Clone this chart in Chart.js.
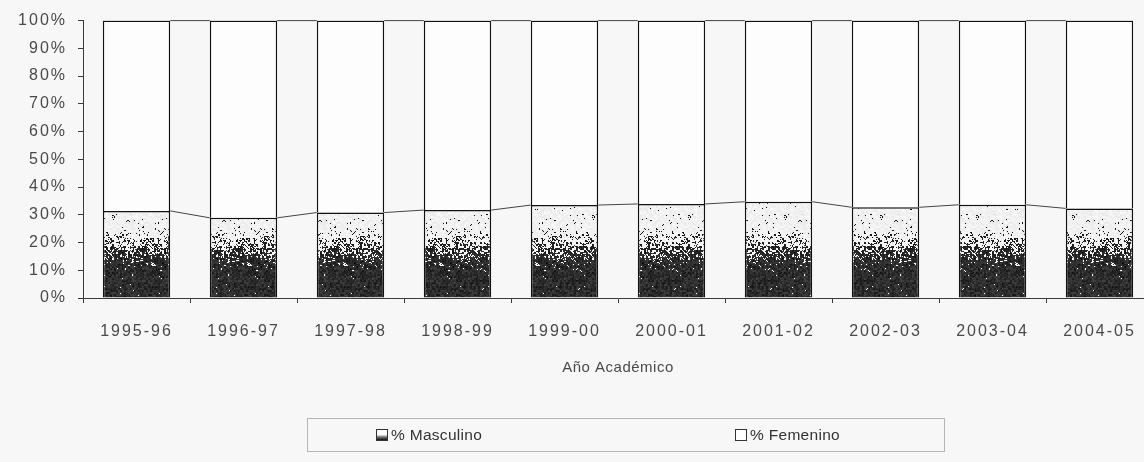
<!DOCTYPE html>
<html>
<head>
<meta charset="utf-8">
<script src="https://cdn.jsdelivr.net/npm/chart.js@4/dist/chart.umd.min.js"></script>
<style>
  html, body { margin: 0; padding: 0; background: #f7f7f7; overflow: hidden; }
  body { width: 1144px; height: 462px; position: relative; font-family: "Liberation Sans", Arial, sans-serif; }
  #wrap { position: absolute; left: 0; top: 0; width: 1160px; height: 462px; }
  #legend {
    position: absolute; left: 307px; top: 418px; width: 638px; height: 34px;
    border: 1px solid #b5b5b5; box-sizing: border-box; color: #333; font-size: 15.5px; letter-spacing: 0.3px;
  }
  #legend .item { position: absolute; top: 7px; white-space: nowrap; }
  #legend .box {
    display: inline-block; width: 10px; height: 10px; border: 1.5px solid #333;
    vertical-align: -1px; margin-right: 3px; background: #fff;
  }
  #legend .box.dark { background: linear-gradient(#fff 0%, #fff 45%, #777 70%, #111 100%); }
</style>
</head>
<body>
<div id="wrap"><canvas id="chart"></canvas></div>
<div id="legend">
  <span class="item" style="left:68px"><span class="box dark"></span>% Masculino</span>
  <span class="item" style="left:427px"><span class="box"></span>% Femenino</span>
</div>
<script>
// Datos (porcentaje por año academico)
const labels = ["1995-96", "1996-97", "1997-98", "1998-99", "1999-00", "2000-01", "2001-02", "2002-03", "2003-04", "2004-05"];
const masculino = [31.4, 28.9, 30.8, 31.7, 33.5, 33.9, 34.7, 32.7, 33.6, 32.3];
const femenino = [68.6, 71.1, 69.2, 68.3, 66.5, 66.1, 65.3, 67.3, 66.4, 67.7];
const yTicks = [0, 10, 20, 30, 40, 50, 60, 70, 80, 90, 100];

const textColor = "#4a4a4a";
const axisColor = "#3a3a3a";

// ruido fijo (hash) para imitar el punteado impreso
function hash(x, y) {
  let h = Math.imul(x, 374761393) + Math.imul(y, 668265263);
  h = Math.imul(h ^ (h >>> 13), 1274126177);
  return ((h ^ (h >>> 16)) >>> 0) / 4294967296;
}

function smooth(v) {
  const t = Math.min(1, Math.max(0, v));
  return t * t * (3 - 2 * t);
}

// relleno punteado (oscuro abajo, claro arriba) para % Masculino
let malePattern = null;
function maleFill(context) {
  const chart = context.chart;
  const { chartArea, scales } = chart;
  if (!chartArea) return "#333";
  if (!malePattern) {
    const y0 = scales.y.getPixelForValue(0);
    const y1 = scales.y.getPixelForValue(33);
    const c = document.createElement("canvas");
    c.width = 96;
    c.height = Math.ceil(y0) + 4;
    const g = c.getContext("2d");
    const img = g.createImageData(c.width, c.height);
    for (let y = 0; y < c.height; y++) {
      const t = (y0 - y) / (y0 - y1);
      const d = 0.95 - 0.87 * smooth((t - 0.2) / 0.7);
      for (let x = 0; x < c.width; x++) {
        const n = 0.6 * hash(x >> 1, y >> 1) + 0.4 * hash(x + 7, y + 13);
        const v = n < d ? 15 + 60 * n : 228 + 25 * n;
        const i = (y * c.width + x) * 4;
        img.data[i] = v;
        img.data[i + 1] = v;
        img.data[i + 2] = v;
        img.data[i + 3] = 255;
      }
    }
    g.putImageData(img, 0, 0);
    malePattern = chart.ctx.createPattern(c, "repeat");
  }
  return malePattern;
}

// lineas de serie entre columnas (estilo Excel)
const seriesLines = {
  id: "seriesLines",
  afterDatasetsDraw(chart) {
    const ctx = chart.ctx;
    ctx.save();
    ctx.strokeStyle = "#444";
    ctx.lineWidth = 1;
    chart.data.datasets.forEach((ds, di) => {
      const bars = chart.getDatasetMeta(di).data;
      for (let i = 0; i < bars.length - 1; i++) {
        const a = bars[i];
        const b = bars[i + 1];
        ctx.beginPath();
        ctx.moveTo(a.x + a.width / 2, a.y);
        ctx.lineTo(b.x - b.width / 2, b.y);
        ctx.stroke();
      }
    });
    ctx.restore();
  },
};

// espaciado de letras de las etiquetas de los ejes
const spacing = {
  id: "spacing",
  beforeUpdate(chart) { chart.ctx.letterSpacing = "2px"; },
  beforeDraw(chart) { chart.ctx.letterSpacing = "2px"; },
};

const ctx = document.getElementById("chart").getContext("2d");
new Chart(ctx, {
  type: "bar",
  data: {
    labels: labels,
    datasets: [
      {
        label: "% Masculino",
        data: masculino,
        backgroundColor: maleFill,
        borderColor: "#111",
        borderWidth: 1.5,
      },
      {
        label: "% Femenino",
        data: femenino,
        backgroundColor: "#fdfdfd",
        borderColor: "#111",
        borderWidth: 1.5,
      },
    ],
  },
  options: {
    responsive: true,
    maintainAspectRatio: false,
    animation: false,
    layout: { padding: { left: 0, right: 7, top: 19, bottom: 85 } },
    datasets: { bar: { barPercentage: 0.63, categoryPercentage: 1 } },
    plugins: {
      legend: { display: false },
      tooltip: { enabled: false },
    },
    scales: {
      x: {
        stacked: true,
        border: { color: axisColor, width: 1 },
        grid: { offset: true, drawOnChartArea: false, tickLength: 5, color: axisColor },
        ticks: {
          color: textColor,
          font: { family: "Liberation Sans", size: 16 },
          padding: 19,
          maxRotation: 0,
          autoSkip: false,
        },
        title: {
          display: true,
          text: "Año Académico",
          color: textColor,
          font: { family: "Liberation Sans", size: 15 },
          padding: 0,
        },
        afterFit(scale) {
          scale.height = 79;
          if (!scale._titleWrapped) {
            const drawTitle = scale.drawTitle.bind(scale);
            scale.drawTitle = function () {
              const c = this.ctx;
              const prev = c.letterSpacing;
              c.letterSpacing = "0.5px";
              drawTitle();
              c.letterSpacing = prev;
            };
            scale._titleWrapped = true;
          }
        },
      },
      y: {
        stacked: true,
        min: 0,
        max: 100,
        border: { color: axisColor, width: 1 },
        grid: { drawOnChartArea: false, tickLength: 5, color: axisColor },
        afterBuildTicks(scale) { scale.ticks = yTicks.map((v) => ({ value: v })); },
        ticks: {
          color: textColor,
          font: { family: "Liberation Sans", size: 16 },
          padding: 11,
          callback: function (value) { return value + "%"; },
        },
        afterFit(scale) { scale.width = 83; },
      },
    },
  },
  plugins: [seriesLines, spacing],
});
</script>
</body>
</html>
